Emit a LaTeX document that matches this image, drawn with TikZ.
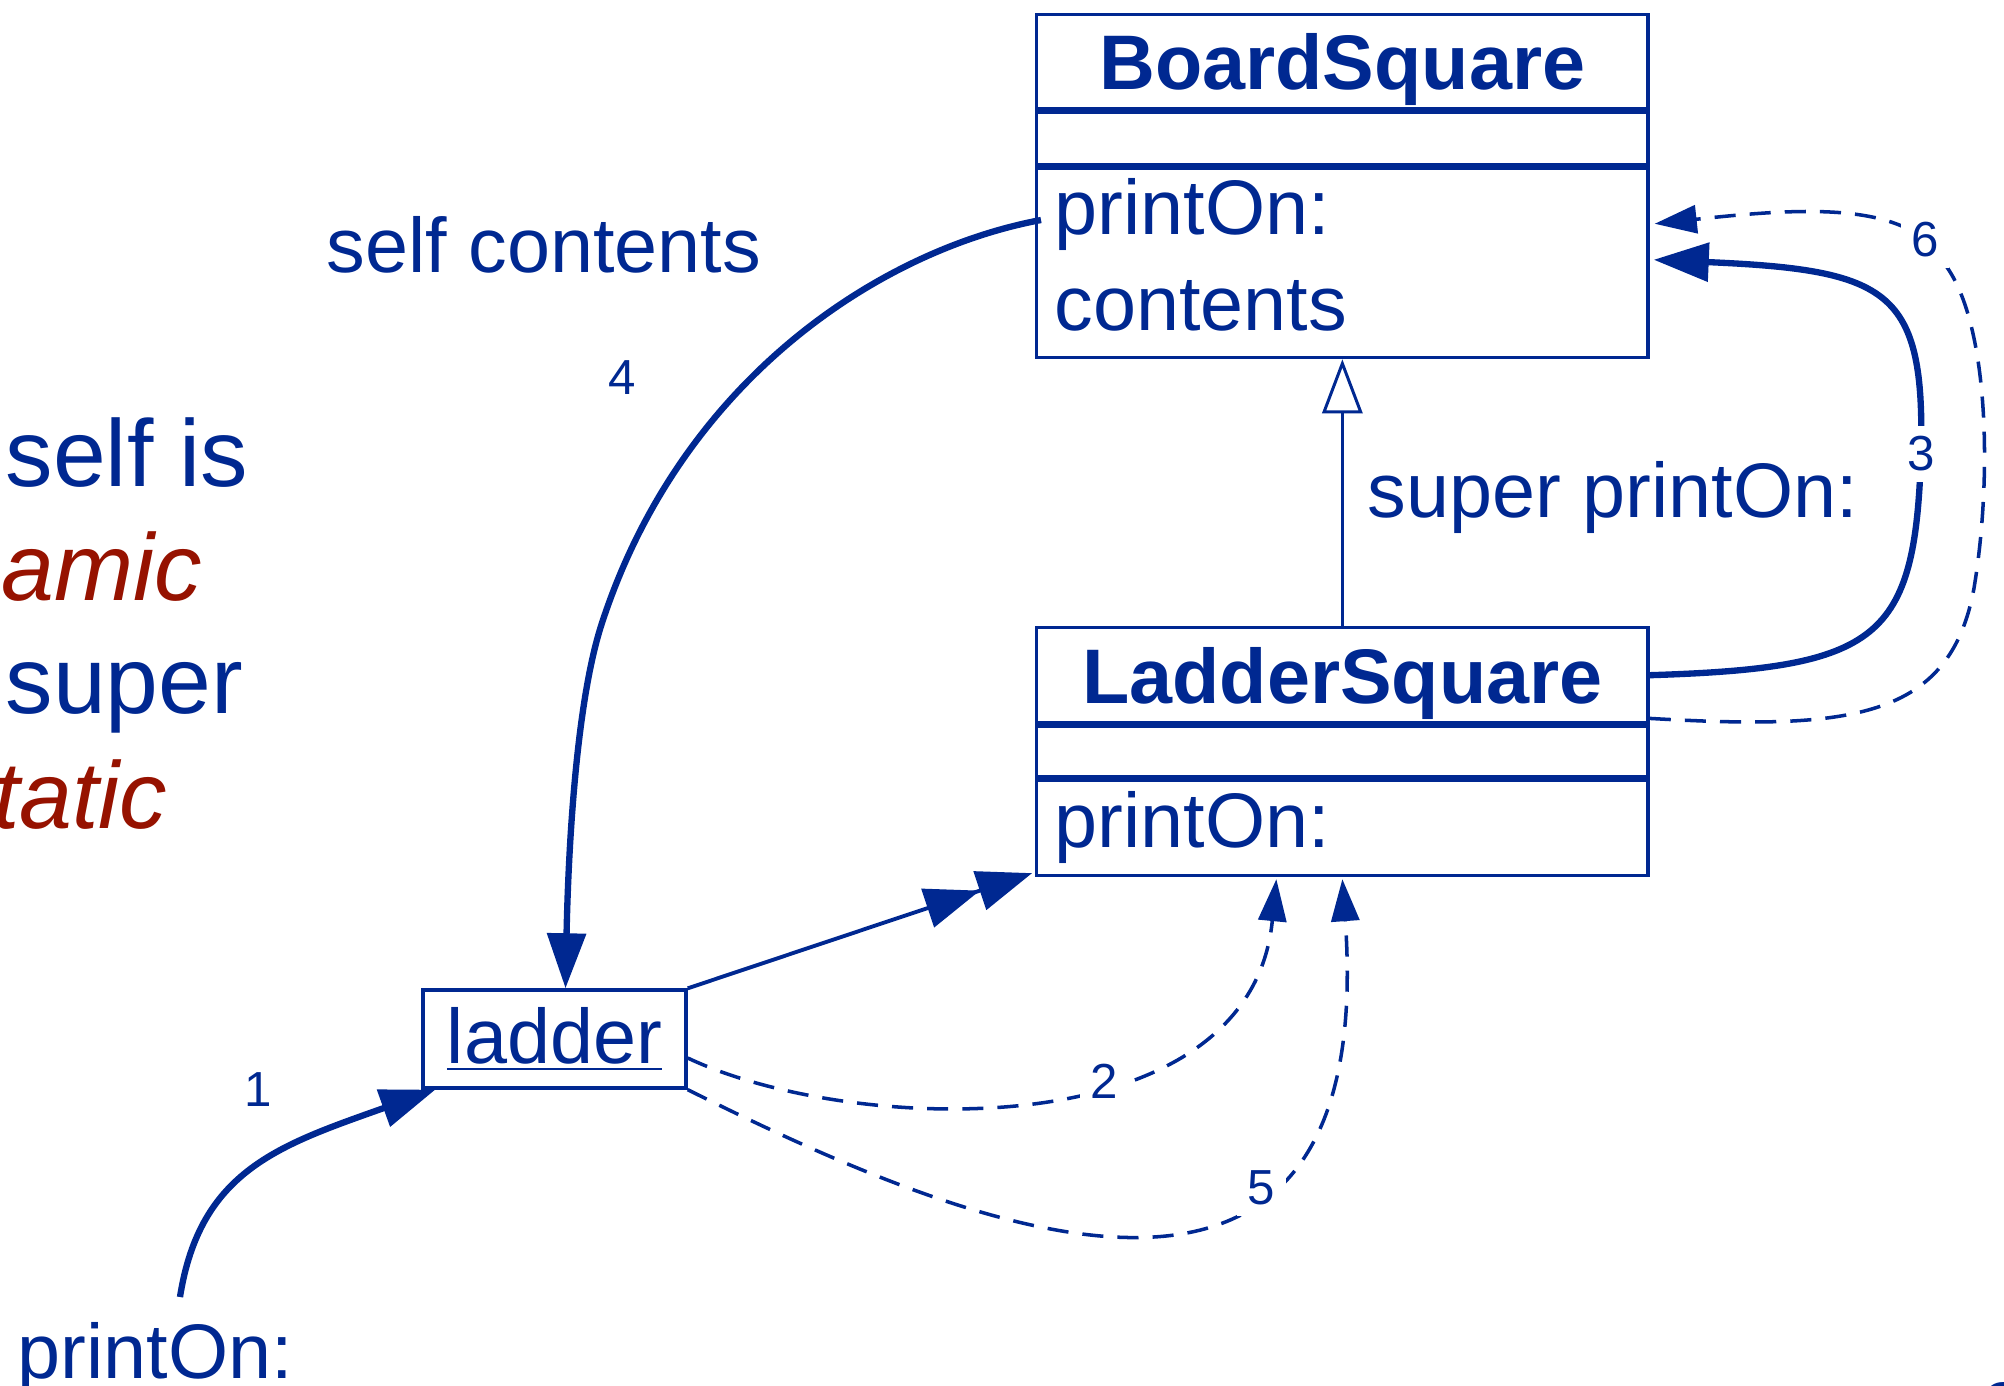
\documentclass[tikz,border=0pt]{standalone}
\usepackage{fontspec}
\setmainfont{Liberation Sans}
\usetikzlibrary{arrows.meta, calc}
\definecolor{slideblue}{RGB}{0,40,145}
\definecolor{slidered}{RGB}{150,18,0}

\begin{document}
\begin{tikzpicture}[x=0.01cm, y=-0.01cm, color=slideblue,
	box/.style={draw, line width=0.95pt, rectangle, inner sep=0pt, minimum width=6.11cm, anchor=north west},
	head/.style={box, text depth=0pt, font=\bfseries\fontsize{22}{26}\selectfont},
	txt/.style={inner sep=0pt, font=\fontsize{22}{26}\selectfont},
	big/.style={inner sep=0pt, font=\fontsize{27}{32}\selectfont},
	num/.style={fill=white, inner sep=3pt, font=\fontsize{14}{16}\selectfont},
	send/.style={line width=1.8pt, -{Triangle[length=5.5mm,width=3.8mm]}},
	lookup/.style={line width=1pt, dash pattern=on 6pt off 4pt, -{Triangle[length=4.2mm,width=2.8mm]}}]
	\useasboundingbox (0,0) rectangle (2004,1385);
	\clip (0,0) rectangle (2004,1385);
	
	%classes
	\node[head, minimum height=0.94cm] (bsHead) at (1035,13) {BoardSquare};
	\node[box, minimum height=0.53cm] (bsAttr) at (bsHead.south west) {};
	\node[box, minimum height=1.89cm] (bsOps) at (bsAttr.south west) {};
	\node[txt, anchor=base west] (bsPrint) at (1054,235) {printOn:};
	\node[txt, anchor=base west] (bsCont) at (1054,330) {contents};
	
	\node[head, minimum height=0.95cm] (lsHead) at (1035,626) {LadderSquare};
	\node[box, minimum height=0.51cm] (lsAttr) at (lsHead.south west) {};
	\node[box, minimum height=0.95cm] (lsOps) at (lsAttr.south west) {};
	\node[txt, anchor=base west] (lsPrint) at (1054,847) {printOn:};
	
	%instance
	\node[txt, draw, line width=0.95pt, minimum width=2.63cm, minimum height=0.98cm] (ladder) at (554.5,1039) {\underline{ladder}};
	\coordinate (client) at (180,1297);
	
	%structure
	\draw[line width=0.85pt, -{Triangle[open,length=5.4mm,width=4mm]}] (lsHead.north) -- (bsOps.south);
	\draw[line width=1.1pt, -{Triangle[length=5.5mm,width=4mm]Triangle[length=5.5mm,width=4mm]}] (ladder.north east) -- ($(lsOps.south west)+(-3,-4)$);
	
	%messages
	\draw[send] (client) .. controls (200,1170) and (280,1145) .. ($(ladder.south west)+(14,0)$);
	\draw[lookup] ($(ladder.east)+(0,19)$) .. controls (850,1135) and (1250,1150) .. node[num,pos=0.6] (n2) {2} ($(lsOps.south)+(-66,2)$);
	\draw[send] (lsHead.east) .. controls (1880,668) and (1915,640) .. (1921,454) node[num] (n3) {3} .. controls (1925,290) and (1890,270) .. ($(bsOps.north east)+(4,93)$);
	\draw[send] ($(bsPrint.west)+(-13,5)$) .. controls (880,250) and (680,380) .. (601,626) .. controls (575,708) and (568,860) .. ($(ladder.north)+(11,0)$);
	\draw[lookup] (ladder.south east) .. controls (950,1220) and (1380,1410) .. node[num,pos=0.69] (n5) {5} ($(lsOps.south)+(0,2)$);
	\draw[lookup] ($(lsHead.south east)+(0,-6)$) .. controls (1850,730) and (1950,720) .. (1974,588) .. controls (1992,480) and (1990,320) .. (1943,262) .. controls (1910,200) and (1800,208) .. node[num,pos=0.14] (n6) {6} ($(bsOps.north east)+(5,57)$);
	
	%labels
	\node[num] (n1) at (258,1090) {1};
	\node[num] (n4) at (622,378) {4};
	\node[txt, anchor=base west] (selfContents) at (326,272) {self contents};
	\node[txt, anchor=base west] (superPrint) at (1367,517) {super printOn:};
	\node[txt, anchor=base west] (clientMsg) at (17,1378) {printOn:};
	
	%note
	\node[big, anchor=base west] (selfIs) at (5,486) {self is};
	\node[big, anchor=base east, text=slidered] (dyn) at (203,600) {\itshape dynamic};
	\node[big, anchor=base west] (superIs) at (5,713) {super};
	\node[big, anchor=base east, text=slidered] (stat) at (168,828) {\itshape static};
	\node[txt, anchor=base west] (pageNo) at (1982,1436) {3};
\end{tikzpicture}
\end{document}
